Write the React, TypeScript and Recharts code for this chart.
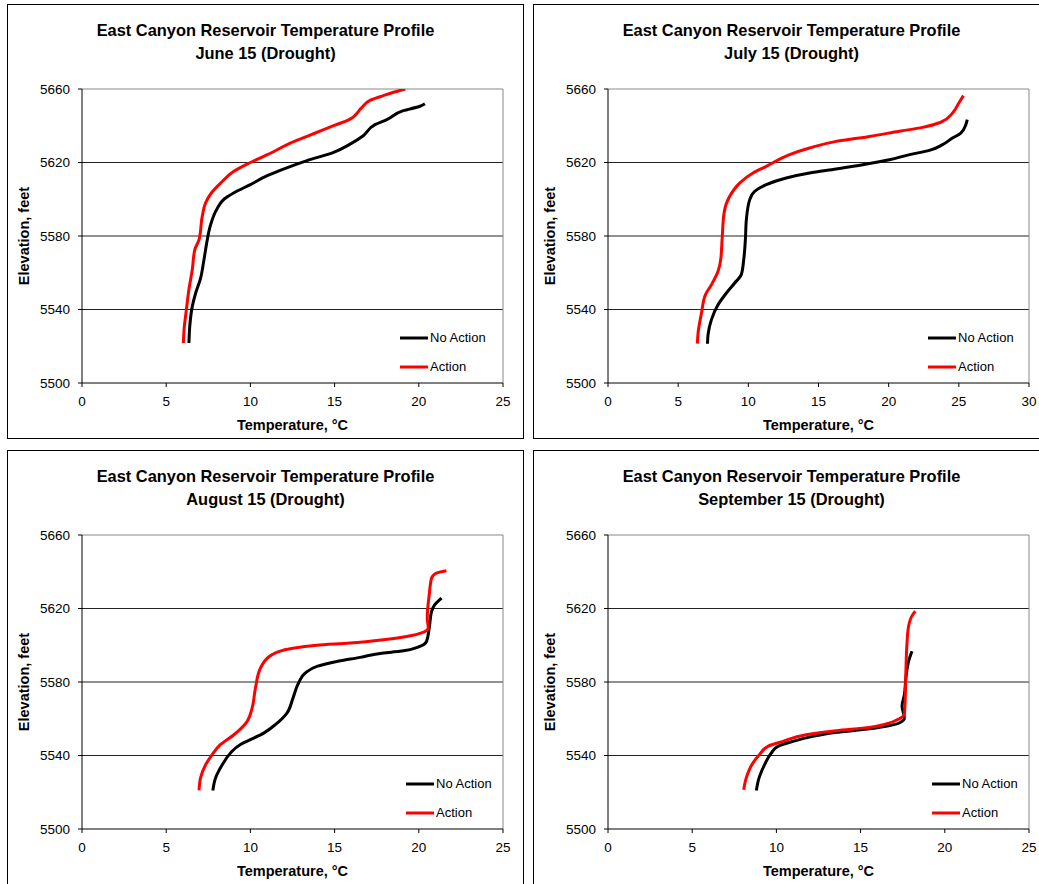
import { LineChart, Line, XAxis, YAxis, CartesianGrid, Legend } from 'recharts'

// [temperature °C, elevation ft] bottom to top
const juneNoAction = [
  [6.35, 5521.8], [6.4, 5531], [6.55, 5541.7], [6.75, 5549], [7.04, 5557], [7.24, 5567],
  [7.44, 5578], [7.6, 5585], [8.03, 5595], [8.43, 5600], [9.0, 5603.4], [10.0, 5608],
  [11.0, 5612.8], [12.0, 5616.5], [13.36, 5621], [14.94, 5625.5], [15.92, 5630], [16.7, 5634.6],
  [17.4, 5640.6], [18.1, 5643.3], [19.08, 5648.2], [20.07, 5650.6], [20.36, 5652],
]
const juneAction = [
  [6.02, 5521.8], [6.06, 5529], [6.2, 5540], [6.35, 5551], [6.55, 5561.7], [6.7, 5572.6],
  [6.95, 5578], [7.14, 5590.7], [7.34, 5598], [7.68, 5603.4], [8.23, 5608.8], [9.02, 5615.2],
  [10.0, 5620], [11.4, 5626], [12.37, 5630.6], [13.36, 5634.2], [14.35, 5637.9], [15.1, 5640.6],
  [15.8, 5643], [16.6, 5649.7], [17.1, 5653.8], [17.9, 5656.4], [18.5, 5658.2], [19.2, 5660],
]
const julyNoAction = [
  [7.09, 5521.4], [7.13, 5526.3], [7.37, 5534.5], [7.84, 5542.6], [8.44, 5549], [9.03, 5554.4],
  [9.5, 5559], [9.67, 5567], [9.79, 5578], [9.86, 5588.9], [10.1, 5599.8], [10.45, 5604.3],
  [11.28, 5608], [12.7, 5611.6], [14.36, 5614.3], [16.26, 5616.5], [18.15, 5618.8], [20.05, 5621.5],
  [21.5, 5624.3], [22.9, 5626.6], [23.84, 5629.7], [24.55, 5633.3], [25.14, 5636], [25.5, 5640.6],
  [25.6, 5643.3],
]
const julyAction = [
  [6.37, 5521.4], [6.42, 5527.2], [6.66, 5538], [6.94, 5548], [7.37, 5553.5], [7.84, 5560.8],
  [8.03, 5567], [8.13, 5578], [8.27, 5592.5], [8.67, 5601.6], [9.38, 5608.8], [10.33, 5614.3],
  [11.28, 5617.9], [12.94, 5624.3], [14.36, 5627.9], [16.26, 5631.5], [18.63, 5634.2], [20.76, 5637],
  [22.42, 5639.1], [23.72, 5641.9], [24.55, 5646.9], [25.0, 5652.4], [25.33, 5656.4],
]
const augustNoAction = [
  [7.77, 5521], [7.93, 5527.8], [8.33, 5535], [8.82, 5541.4], [9.41, 5546], [10.0, 5548.6],
  [10.79, 5552.2], [11.48, 5556.8], [12.17, 5563.1], [12.53, 5571.3], [12.86, 5579.5], [13.26, 5584.9],
  [13.95, 5588.5], [15.13, 5591.2], [16.52, 5593.4], [17.9, 5595.8], [18.88, 5596.7], [20.07, 5599.4],
  [20.46, 5602.1], [20.62, 5609.4], [20.76, 5618.5], [20.95, 5622.1], [21.35, 5625.7],
]
const augustAction = [
  [6.95, 5521], [7.04, 5527.8], [7.34, 5535], [7.73, 5540.5], [8.23, 5546], [9.02, 5551.3],
  [9.81, 5558.6], [10.1, 5565.8], [10.3, 5576.7], [10.6, 5587.6], [11.29, 5594.9], [12.37, 5598.1],
  [13.95, 5600], [15.92, 5601.2], [17.9, 5603], [19.28, 5604.8], [20.17, 5606.7], [20.56, 5609.4],
  [20.5, 5614.8], [20.62, 5627.5], [20.76, 5636.6], [21.05, 5639.3], [21.64, 5640.6],
]
const septNoAction = [
  [8.81, 5521], [8.97, 5527.8], [9.3, 5535], [9.7, 5541.4], [10.09, 5545], [10.98, 5547.7],
  [12.16, 5550.4], [13.55, 5552.6], [15.13, 5554.1], [16.51, 5555.9], [17.3, 5557.7], [17.6, 5560.4],
  [17.46, 5566.8], [17.6, 5573.1], [17.69, 5582.2], [17.85, 5591.2], [18.05, 5596.7],
]
const septAction = [
  [8.06, 5521.4], [8.21, 5527.8], [8.61, 5536], [9.0, 5540.5], [9.5, 5545], [10.39, 5547.7],
  [11.77, 5551.3], [13.55, 5553.5], [15.52, 5555.3], [16.51, 5557.1], [17.3, 5560], [17.6, 5562.2],
  [17.65, 5571.3], [17.69, 5585.8], [17.75, 5600.3], [17.85, 5610.3], [18.09, 5616.6], [18.25, 5618.5],
]

const elevTicks = [5500, 5540, 5580, 5620, 5660]
const tempTicks25 = [0, 5, 10, 15, 20, 25]
const tempTicks30 = [0, 5, 10, 15, 20, 25, 30]
const seriesNames = ['No Action', 'Action']
const titleLine = 'East Canyon Reservoir Temperature Profile'

const FONT = '"Liberation Sans", Arial, sans-serif'
const CW = 515
const CH = 433

const toPoints = (rows: number[][]) => rows.map(([t, e]) => ({ t, e }))

function renderLegend(props: any) {
  // keep the series order (the legend would otherwise sort by name)
  const items = [...(props.payload || [])].sort(
    (a: any, b: any) => seriesNames.indexOf(a.value) - seriesNames.indexOf(b.value)
  )
  return (
    <div style={{ fontFamily: FONT, fontSize: 13, color: '#000' }}>
      {items.map((p: any) => (
        <div key={p.value} style={{ display: 'flex', alignItems: 'center', height: 29 }}>
          <svg width={28} height={6}>
            <line x1={0} y1={3} x2={28} y2={3} stroke={p.color} strokeWidth={3} />
          </svg>
          <span style={{ marginLeft: 2 }}>{p.value}</span>
        </div>
      ))}
    </div>
  )
}

interface PanelProps {
  left: number
  top: number
  subtitle: string
  noAction: number[][]
  action: number[][]
  tempTicks: number[]
  legendLeft: number
}

function Panel({ left, top, subtitle, noAction, action, tempTicks, legendLeft }: PanelProps) {
  const tMax = tempTicks[tempTicks.length - 1]
  return (
    <div
      style={{
        position: 'absolute', left, top, width: CW + 2, height: CH + 2,
        border: '1px solid #000', boxSizing: 'border-box', background: '#fff',
      }}
    >
      <div
        style={{
          position: 'absolute', left: 0, top: 14, width: '100%', textAlign: 'center',
          fontFamily: FONT, fontWeight: 'bold', fontSize: 16.4, lineHeight: '22.5px', color: '#000',
        }}
      >
        <div>{titleLine}</div>
        <div>{subtitle}</div>
      </div>
      <LineChart
        width={CW}
        height={CH}
        margin={{ top: 84, right: 20, left: 14, bottom: 25 }}
        style={{ position: 'absolute', left: 0, top: 0 }}
      >
        <CartesianGrid
          vertical={false}
          horizontalValues={[5540, 5580, 5620]}
          stroke="#222"
        />
        <CartesianGrid
          horizontalValues={[5660]}
          verticalValues={[tMax]}
          stroke="#888"
        />
        <XAxis
          type="number"
          dataKey="t"
          domain={[0, tMax]}
          ticks={tempTicks}
          allowDataOverflow
          height={30}
          stroke="#000"
          tickSize={4}
          tickMargin={9}
          tick={{ fill: '#000', fontSize: 13.5, fontFamily: FONT }}
          label={{
            value: 'Temperature, °C', position: 'bottom', offset: 7,
            style: { fontFamily: FONT, fontWeight: 'bold', fontSize: 14.5, fill: '#000' },
          }}
        />
        <YAxis
          type="number"
          dataKey="e"
          domain={[5500, 5660]}
          ticks={elevTicks}
          allowDataOverflow
          width={60}
          stroke="#000"
          tickSize={4}
          tickMargin={8}
          tick={{ fill: '#000', fontSize: 13.5, fontFamily: FONT }}
          label={{
            value: 'Elevation, feet', angle: -90, position: 'insideLeft', offset: 2,
            style: { fontFamily: FONT, fontWeight: 'bold', fontSize: 14.5, fill: '#000', textAnchor: 'middle' },
          }}
        />
        <Legend
          layout="horizontal"
          verticalAlign="middle"
          align="center"
          content={renderLegend}
          wrapperStyle={{ left: legendLeft, top: 318, width: 'auto', height: 'auto' }}
        />
        <Line
          data={toPoints(noAction)}
          dataKey="e"
          name={seriesNames[0]}
          type="monotoneY"
          stroke="#000"
          strokeWidth={3}
          dot={false}
          activeDot={false}
          isAnimationActive={false}
        />
        <Line
          data={toPoints(action)}
          dataKey="e"
          name={seriesNames[1]}
          type="monotoneY"
          stroke="#ff0000"
          strokeWidth={3}
          dot={false}
          activeDot={false}
          isAnimationActive={false}
        />
      </LineChart>
    </div>
  )
}

export default function App() {
  return (
    <div
      style={{
        position: 'absolute', left: 0, top: 0, width: 1039, height: 884,
        overflow: 'hidden', background: '#fff',
      }}
    >
      <Panel left={7} top={4} subtitle="June 15 (Drought)" noAction={juneNoAction} action={juneAction} tempTicks={tempTicks25} legendLeft={392} />
      <Panel left={533} top={4} subtitle="July 15 (Drought)" noAction={julyNoAction} action={julyAction} tempTicks={tempTicks30} legendLeft={394} />
      <Panel left={7} top={450} subtitle="August 15 (Drought)" noAction={augustNoAction} action={augustAction} tempTicks={tempTicks25} legendLeft={398} />
      <Panel left={533} top={450} subtitle="September 15 (Drought)" noAction={septNoAction} action={septAction} tempTicks={tempTicks25} legendLeft={398} />
    </div>
  )
}
